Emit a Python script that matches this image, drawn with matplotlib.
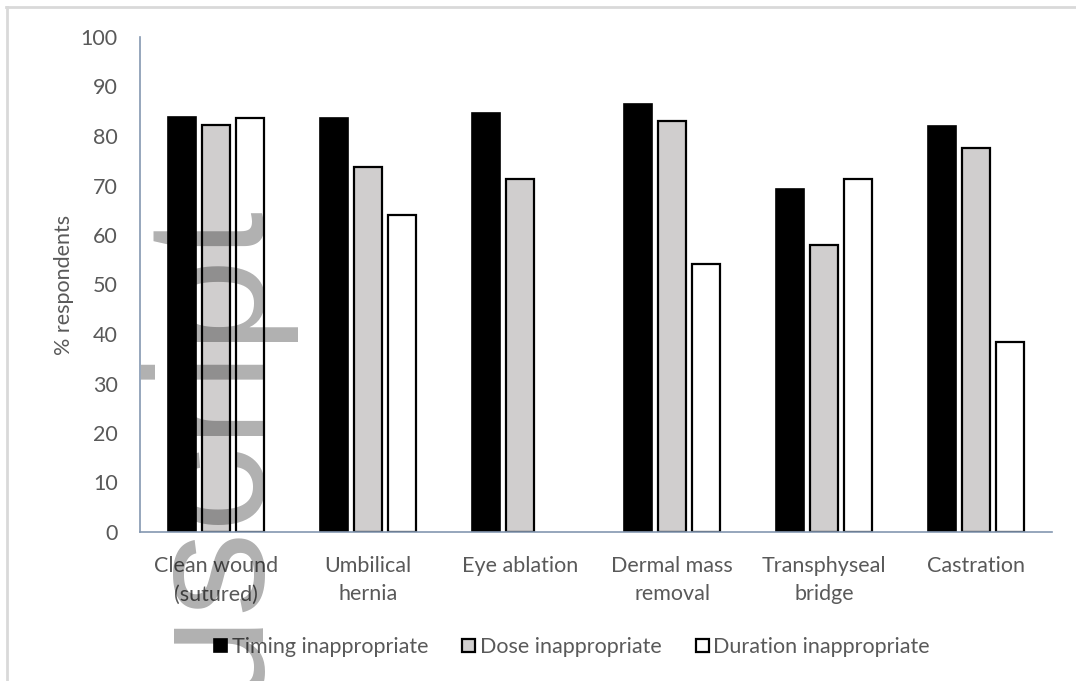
import matplotlib
matplotlib.use('Agg')
import matplotlib.pyplot as plt
import numpy as np
from matplotlib.lines import Line2D

plt.rcParams['font.family'] = ['Lato', 'DejaVu Sans']

categories = ['Clean wound\n(sutured)', 'Umbilical\nhernia', 'Eye ablation',
              'Dermal mass\nremoval', 'Transphyseal\nbridge', 'Castration']
timing = [83.8, 83.6, 84.6, 86.5, 69.2, 82.0]
dose = [82.2, 73.8, 71.3, 83.0, 57.9, 77.6]
duration = [83.7, 64.0, 0, 54.1, 71.3, 38.4]
series_names = ['Timing inappropriate', 'Dose inappropriate', 'Duration inappropriate']
yticks = list(range(0, 101, 10))

TXT = '#595959'
AXC = '#8497b0'
FS = 15.5

W, H = 1076, 681
fig = plt.figure(figsize=(W / 100, H / 100), dpi=100)
ax = fig.add_axes([140 / W, 1 - 532 / H, 912 / W, (532 - 37) / H])

x = np.arange(len(categories))
bw = 0.18
step = 0.224
ax.bar(x - step, timing, bw, color='black', edgecolor='black', linewidth=1.2,
       label=series_names[0], zorder=2)
ax.bar(x, dose, bw, color='#d0cece', edgecolor='black', linewidth=1.6,
       label=series_names[1], zorder=2)
dur_bars = ax.bar(x + step, duration, bw, color='white', edgecolor='black', linewidth=1.6,
                  label=series_names[2], zorder=2)
for b, v in zip(dur_bars, duration):
    if v == 0:
        b.set_visible(False)

ax.set_xlim(-0.5, len(categories) - 0.5)
ax.set_ylim(0, 100)
ax.set_yticks(yticks)
ax.set_xticks(x)
ax.set_xticklabels(categories, fontsize=FS, color=TXT, linespacing=1.55)
ax.tick_params(axis='both', length=0, labelsize=FS, labelcolor=TXT)
ax.tick_params(axis='x', pad=17)
ax.tick_params(axis='y', pad=16)
for s in ['top', 'right']:
    ax.spines[s].set_visible(False)
for s in ['left', 'bottom']:
    ax.spines[s].set_color(AXC)
    ax.spines[s].set_linewidth(1.2)
ax.set_ylabel('% respondents', fontsize=FS, color=TXT, labelpad=5)

leg = fig.legend(loc='center', bbox_to_anchor=(572 / W, 1 - 647 / H), ncol=3,
                 frameon=False, fontsize=FS, handlelength=0.6, handleheight=0.6,
                 handletextpad=0.2, columnspacing=1.6)
for t in leg.get_texts():
    t.set_color(TXT)

# light frame of the original chart area
fig.add_artist(Line2D([6 / W, 1], [1 - 6.5 / H, 1 - 6.5 / H], color='#d9d9d9', lw=2))
fig.add_artist(Line2D([6.5 / W, 6.5 / W], [0, 1 - 6.5 / H], color='#d9d9d9', lw=2))

# manuscript watermark
fig.text(250 / W, 1 - 197 / H, 'Manuscript', rotation=90, rotation_mode='anchor',
         ha='right', va='baseline', fontsize=122, family='Liberation Sans',
         color='black', alpha=0.31, zorder=10)

fig.savefig('out.png', dpi=100)
